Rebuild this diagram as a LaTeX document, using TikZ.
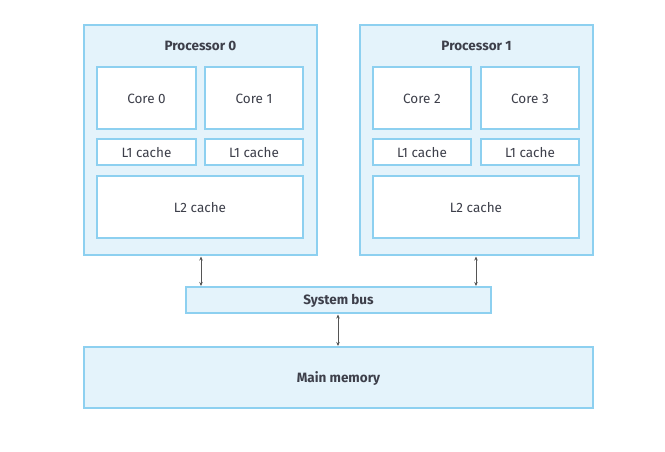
\documentclass[tikz,border=0pt]{standalone}
\usepackage{fontspec}
\setmainfont{Fira Sans}
\usetikzlibrary{arrows.meta}
\definecolor{bord}{HTML}{8DD0F0}
\definecolor{pale}{HTML}{E4F3FB}
\definecolor{txt}{HTML}{3D3F4A}
\definecolor{arr}{HTML}{555555}
\tikzset{
  outer/.style={draw=bord, fill=pale, line width=2.4pt},
  inner/.style={draw=bord, fill=white, line width=2.4pt},
  lbl/.style={text=txt, font=\fontsize{13.5}{15}\selectfont, yshift=-1pt},
  blbl/.style={text=txt, font=\fontsize{13.5}{15}\selectfont\bfseries, yshift=-1pt},
  link/.style={draw=arr, line width=0.8pt, {Stealth[length=4pt,width=3.5pt]}-{Stealth[length=4pt,width=3.5pt]}}
}
\begin{document}
\begin{tikzpicture}[x=1pt,y=-1pt]
\useasboundingbox (0,0) rectangle (665,451);
% processors
\draw[outer] (84,25) rectangle (317,255);
\draw[outer] (360,25) rectangle (593,255);
\node[blbl] (p0) at (200.5,45) {Processor 0};
\node[blbl] (p1) at (476.5,45) {Processor 1};
% processor 0
\draw[inner] (97,67) rectangle node[lbl] (c0) {Core 0} (196,129);
\draw[inner] (205,67) rectangle node[lbl] (c1) {Core 1} (303,129);
\draw[inner] (97,139) rectangle node[lbl] (l10) {L1 cache} (196,165);
\draw[inner] (205,139) rectangle node[lbl] (l11) {L1 cache} (303,165);
\draw[inner] (97,176) rectangle node[lbl] (l20) {L2 cache} (303,238);
% processor 1
\draw[inner] (373,67) rectangle node[lbl] (c2) {Core 2} (471,129);
\draw[inner] (481,67) rectangle node[lbl] (c3) {Core 3} (579,129);
\draw[inner] (373,139) rectangle node[lbl] (l12) {L1 cache} (471,165);
\draw[inner] (481,139) rectangle node[lbl] (l13) {L1 cache} (579,165);
\draw[inner] (373,176) rectangle node[lbl] (l21) {L2 cache} (579,238);
% bus and memory
\draw[outer] (186,287) rectangle node[blbl] (bus) {System bus} (491,313);
\draw[outer] (84,347) rectangle node[blbl] (mem) {Main memory} (593,408);
% arrows
\coordinate (a0t) at (201,256.5);
\coordinate (a0b) at (201,286);
\coordinate (a1t) at (476,256.5);
\coordinate (a1b) at (476,286);
\coordinate (a2t) at (338,314.5);
\coordinate (a2b) at (338,346);
\draw[link] (a0t) -- (a0b);
\draw[link] (a1t) -- (a1b);
\draw[link] (a2t) -- (a2b);
\end{tikzpicture}
\end{document}
